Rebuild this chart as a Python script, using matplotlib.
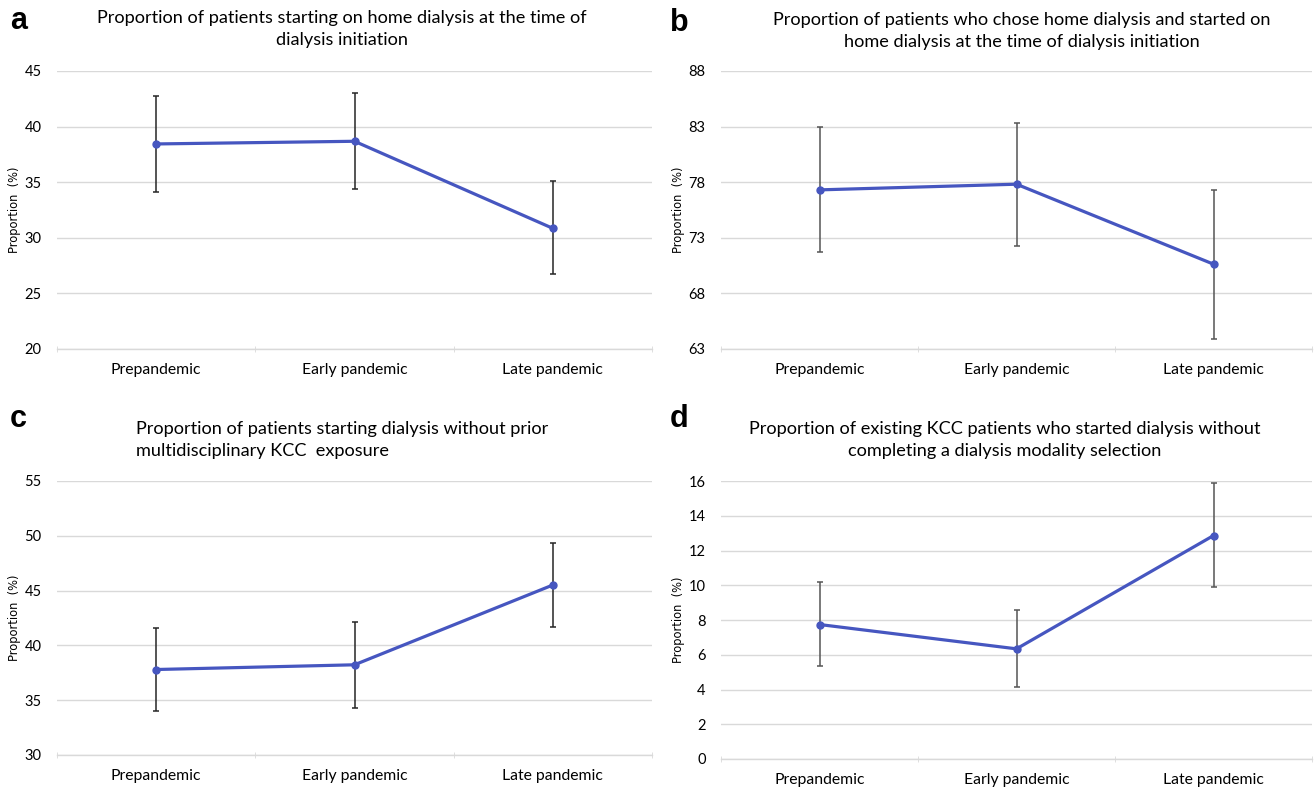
import matplotlib.pyplot as plt

# periods on the x axis
periods = ['Prepandemic', 'Early pandemic', 'Late pandemic']

# panel a
a_val = [38.44, 38.68, 30.85]
a_lo = [34.12, 34.39, 26.72]
a_hi = [42.78, 43.02, 35.14]
# panel b
b_val = [77.31, 77.82, 70.63]
b_lo = [71.68, 72.25, 63.89]
b_hi = [82.97, 83.36, 77.34]
# panel c
c_val = [37.80, 38.23, 45.51]
c_lo = [34.04, 34.28, 41.72]
c_hi = [41.62, 42.11, 49.30]
# panel d
d_val = [7.74, 6.34, 12.86]
d_lo = [5.37, 4.16, 9.91]
d_hi = [10.16, 8.59, 15.90]

a_ticks = [20, 25, 30, 35, 40, 45]
b_ticks = [63, 68, 73, 78, 83, 88]
c_ticks = [30, 35, 40, 45, 50, 55]
d_ticks = [0, 2, 4, 6, 8, 10, 12, 14, 16]

titles = [
    'Proportion of patients starting on home dialysis at the time of\ndialysis initiation',
    'Proportion of patients who chose home dialysis and started on\nhome dialysis at the time of dialysis initiation',
    'Proportion of patients starting dialysis without prior\nmultidisciplinary KCC  exposure',
    'Proportion of existing KCC patients who started dialysis without\ncompleting a dialysis modality selection',
]

W, H = 1314, 787
plt.rcParams['font.family'] = ['Lato', 'DejaVu Sans']

fig = plt.figure(figsize=(W / 100, H / 100), dpi=100)

def px_axes(x0, y0, x1, y1):
    return fig.add_axes([x0 / W, 1 - y1 / H, (x1 - x0) / W, (y1 - y0) / H])

LINE = '#4656C0'
GRID = '#D9D9D9'

def panel(ax, vals, lo, hi, ticks, width_px, ecol):
    x = list(range(len(periods)))
    err = [[v - l for v, l in zip(vals, lo)], [h - v for v, h in zip(vals, hi)]]
    ax.errorbar(x, vals, yerr=err, fmt='none', ecolor=ecol, elinewidth=1.1,
                capsize=2.5, capthick=1.1, zorder=2)
    ax.plot(x, vals, color=LINE, lw=2.3, marker='o', ms=5, zorder=3)
    ax.set_xlim(-0.5, 2.5)
    ax.set_ylim(ticks[0], ticks[-1])
    ax.set_yticks(ticks)
    ax.grid(axis='y', color=GRID, lw=1)
    ax.set_axisbelow(True)
    for s in ['top', 'right', 'left']:
        ax.spines[s].set_visible(False)
    ax.spines['bottom'].set_color(GRID)
    ax.spines['bottom'].set_linewidth(1)
    ax.set_xticks(x)
    ax.set_xticklabels(periods, fontsize=11.3)
    ax.set_xticks([-0.5, 0.5, 1.5, 2.5], minor=True)
    ax.tick_params(axis='x', which='major', length=0, pad=10)
    ax.tick_params(axis='x', which='minor', length=5, color=GRID, direction='inout')
    ax.tick_params(axis='y', length=0, labelsize=10.5, pad=11)
    ax.set_ylabel('Proportion  (%)', fontsize=8.3, family='DejaVu Sans')
    ax.yaxis.set_label_coords(-36 / width_px, 0.5)

ax_a = px_axes(57, 71, 652, 349)
panel(ax_a, a_val, a_lo, a_hi, a_ticks, 595, '#262626')
ax_b = px_axes(721, 71, 1312, 349)
panel(ax_b, b_val, b_lo, b_hi, b_ticks, 591, '#555555')
ax_c = px_axes(57, 481, 652, 755)
panel(ax_c, c_val, c_lo, c_hi, c_ticks, 595, '#262626')
ax_d = px_axes(721, 481, 1312, 759)
panel(ax_d, d_val, d_lo, d_hi, d_ticks, 591, '#555555')

# titles and panel letters
tkw = dict(va='top', fontsize=13.1, linespacing=1.45)
fig.text(342 / W, 1 - 10 / H, titles[0], ha='center', **tkw)
fig.text(1022 / W, 1 - 12 / H, titles[1], ha='center', **tkw)
fig.text(136 / W, 1 - 421 / H, titles[2], ha='left', **tkw)
fig.text(1005 / W, 1 - 421 / H, titles[3], ha='center', **tkw)

for lab, (x, y) in zip('abcd', [(10, 6), (670, 8), (10, 404), (670, 404)]):
    fig.text(x / W, 1 - y / H, lab, ha='left', va='top', fontsize=22,
             fontweight='bold', family=['Liberation Sans', 'DejaVu Sans'])

fig.savefig('out.png', dpi=100)
